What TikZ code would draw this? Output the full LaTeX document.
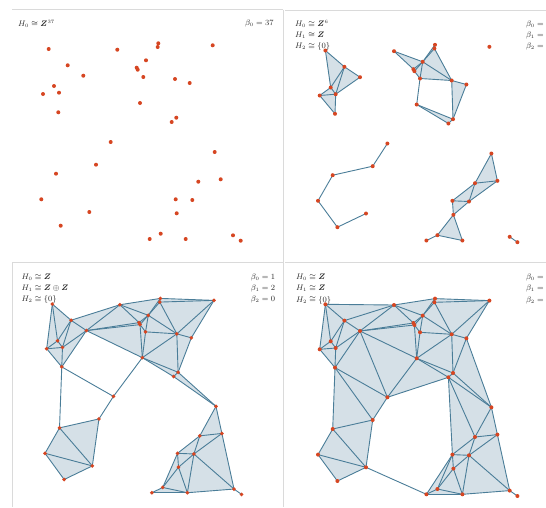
\documentclass[tikz,border=0pt]{standalone}
\usepackage{bm}
\definecolor{dotc}{RGB}{214,70,34}
\definecolor{edgec}{RGB}{74,125,152}
\definecolor{trifc}{RGB}{213,224,231}
\definecolor{framec}{RGB}{218,218,218}
\definecolor{txtc}{RGB}{40,40,40}

\newcount\akI \newcount\akJ \newcount\akK \newcount\akM
\newcount\akbx \newcount\akby \newcount\akcx \newcount\akcy
\newcount\akD \newcount\akAD \newcount\akSB \newcount\akSC
\newcount\akux \newcount\akuy \newcount\akR \newcount\akccx \newcount\akccy
\newif\ifakempty
\def\akN{37}
\def\akX#1{\csname akx#1\endcsname}
\def\akY#1{\csname aky#1\endcsname}
\def\akset#1#2#3{\expandafter\def\csname akx#1\endcsname{#2}\expandafter\def\csname aky#1\endcsname{#3}}
% point coordinates, 0.1 px units, panel-1 frame
\akset{1}{487}{490}
\akset{2}{1173}{497}
\akset{3}{1583}{433}
\akset{4}{1577}{470}
\akset{5}{2127}{453}
\akset{6}{677}{653}
\akset{7}{1460}{603}
\akset{8}{1367}{677}
\akset{9}{1377}{697}
\akset{10}{833}{757}
\akset{11}{1433}{770}
\akset{12}{1750}{790}
\akset{13}{1897}{830}
\akset{14}{540}{860}
\akset{15}{590}{927}
\akset{16}{430}{940}
\akset{17}{1400}{1030}
\akset{18}{583}{1123}
\akset{19}{1763}{1177}
\akset{20}{1717}{1220}
\akset{21}{1107}{1420}
\akset{22}{2147}{1520}
\akset{23}{960}{1647}
\akset{24}{560}{1737}
\akset{25}{2207}{1793}
\akset{26}{1983}{1817}
\akset{27}{413}{1993}
\akset{28}{1757}{1993}
\akset{29}{1923}{2000}
\akset{30}{893}{2120}
\akset{31}{1767}{2133}
\akset{32}{607}{2257}
\akset{33}{1607}{2337}
\akset{34}{1497}{2390}
\akset{35}{1857}{2390}
\akset{36}{2330}{2353}
\akset{37}{2407}{2407}

\def\akdtwo#1#2{\numexpr(\akX{#1}-\akX{#2})*(\akX{#1}-\akX{#2})+(\akY{#1}-\akY{#2})*(\akY{#1}-\akY{#2})\relax}
\def\akupd#1#2#3{%
  \ifcsname akE-#1-#2\endcsname
    \ifnum#3<\csname akE-#1-#2\endcsname\relax
      \expandafter\xdef\csname akE-#1-#2\endcsname{#3}%
    \fi
  \else
    \expandafter\xdef\csname akE-#1-#2\endcsname{#3}%
  \fi}
\let\akT\relax \let\akE\relax
\def\akTlist{}\def\akElist{}

\def\akLoopI{%
  \ifnum\akI>\akN\relax\else
    \akJ=\numexpr\akI+1\relax
    \akLoopJ
    \advance\akI by 1
    \expandafter\akLoopI
  \fi}
\def\akLoopJ{%
  \ifnum\akJ>\akN\relax\else
    \ifnum\akdtwo{\the\akI}{\the\akJ}>810000 \else
      \akK=\numexpr\akJ+1\relax
      \akLoopK
    \fi
    \advance\akJ by 1
    \expandafter\akLoopJ
  \fi}
\def\akLoopK{%
  \ifnum\akK>\akN\relax\else
    \akTriple
    \advance\akK by 1
    \expandafter\akLoopK
  \fi}
\def\akLoopM{%
  \ifnum\akM>\akN\relax\else
    \ifnum\akM=\akI\else\ifnum\akM=\akJ\else\ifnum\akM=\akK\else
      \ifnum\numexpr(\akX{\the\akM}-\akccx)*(\akX{\the\akM}-\akccx)+(\akY{\the\akM}-\akccy)*(\akY{\the\akM}-\akccy)\relax<\akR
        \akemptyfalse
      \fi
    \fi\fi\fi
    \advance\akM by 1
    \expandafter\akLoopM
  \fi}
\def\akTriple{%
  \ifnum\akdtwo{\the\akI}{\the\akK}>810000 \else
  \ifnum\akdtwo{\the\akJ}{\the\akK}>810000 \else
    \akbx=\numexpr\akX{\the\akJ}-\akX{\the\akI}\relax
    \akby=\numexpr\akY{\the\akJ}-\akY{\the\akI}\relax
    \akcx=\numexpr\akX{\the\akK}-\akX{\the\akI}\relax
    \akcy=\numexpr\akY{\the\akK}-\akY{\the\akI}\relax
    \akD=\numexpr2*(\akbx*\akcy-\akby*\akcx)\relax
    \akAD=\ifnum\akD<0 -\fi\akD
    \ifnum\akAD<100 \else
      \akSB=\numexpr\akbx*\akbx+\akby*\akby\relax
      \akSC=\numexpr\akcx*\akcx+\akcy*\akcy\relax
      \akux=\numexpr\akcy*\akSB/\akD-\akby*\akSC/\akD\relax
      \akuy=\numexpr\akbx*\akSC/\akD-\akcx*\akSB/\akD\relax
      \ifnum\akux>3000 \akux=3000 \fi
      \ifnum\akux<-3000 \akux=-3000 \fi
      \ifnum\akuy>3000 \akuy=3000 \fi
      \ifnum\akuy<-3000 \akuy=-3000 \fi
      \akR=\numexpr\akux*\akux+\akuy*\akuy\relax
      \ifnum\akR>202500 \else
        \akccx=\numexpr\akX{\the\akI}+\akux\relax
        \akccy=\numexpr\akY{\the\akI}+\akuy\relax
        \akemptytrue
        \akM=1
        \akLoopM
        \ifakempty
          \xdef\akTlist{\akTlist\noexpand\akT{\the\akI}{\the\akJ}{\the\akK}{\the\akR}}%
          \edef\akTmp{\noexpand\akupd{\the\akI}{\the\akJ}{\the\akR}\noexpand\akupd{\the\akI}{\the\akK}{\the\akR}\noexpand\akupd{\the\akJ}{\the\akK}{\the\akR}}%
          \akTmp
        \fi
      \fi
    \fi
  \fi\fi}

\def\akLoopG{%
  \ifnum\akM>\akN\relax\else
    \ifnum\akM=\akI\else\ifnum\akM=\akJ\else
      \ifnum\numexpr(2*\akX{\the\akM}-\akX{\the\akI}-\akX{\the\akJ})*(2*\akX{\the\akM}-\akX{\the\akI}-\akX{\the\akJ})+(2*\akY{\the\akM}-\akY{\the\akI}-\akY{\the\akJ})*(2*\akY{\the\akM}-\akY{\the\akI}-\akY{\the\akJ})\relax<\akR
        \akemptyfalse
      \fi
    \fi\fi
    \advance\akM by 1
    \expandafter\akLoopG
  \fi}
\def\akPI{\ifnum\akI>\akN\relax\else \akJ=\numexpr\akI+1\relax \akPJ \advance\akI by 1 \expandafter\akPI\fi}
\def\akPJ{\ifnum\akJ>\akN\relax\else \akPair \advance\akJ by 1 \expandafter\akPJ\fi}
\def\akPair{%
  \akR=\akdtwo{\the\akI}{\the\akJ}%
  \ifnum\akR>810000 \else
    \akemptytrue
    \akM=1 \akLoopG
    \ifakempty
      \expandafter\xdef\csname akE-\the\akI-\the\akJ\endcsname{\the\numexpr\akR/4\relax}%
    \fi
    \ifcsname akE-\the\akI-\the\akJ\endcsname
      \xdef\akElist{\akElist\noexpand\akE{\the\akI}{\the\akJ}{\csname akE-\the\akI-\the\akJ\endcsname}}%
    \fi
  \fi}

\akI=1 \akLoopI
\akI=1 \akPI

\def\akrr{0}
\def\akp{a}
\def\akTdraw#1#2#3#4{\ifnum#4>\akrr\relax\else\fill[trif] (\akp#1)--(\akp#2)--(\akp#3)--cycle;\fi}
\def\akEdraw#1#2#3{\ifnum#3>\akrr\relax\else\draw[edg] (\akp#1)--(\akp#2);\fi}
\newcommand\akPanel[2]{%
  \def\akp{#1}\def\akrr{#2}%
  \foreach \i in {1,...,37}{\coordinate (#1\i) at (\akX{\i},\akY{\i});}%
  \let\akT\akTdraw \akTlist
  \let\akE\akEdraw \akElist
  \foreach \i in {1,...,37}{\fill[dotc] (#1\i) circle[radius=2pt];}%
}

\begin{document}
\begin{tikzpicture}[x=0.1pt,y=-0.1pt,
  trif/.style={fill=trifc},
  edg/.style={draw=edgec,line width=0.9pt,line cap=round},
  framel/.style={draw=framec,line width=1pt},
  lab/.style={anchor=west,inner sep=0pt,text=txtc,font=\fontsize{7.6}{9}\selectfont}]
\path[use as bounding box] (0,0) rectangle (5460,5070);
\clip (0,0) rectangle (5460,5070);
% frames
\draw[framel] (120,95) -- (2830,95);
\draw[framel] (2850,100) -- (5460,100);
\draw[framel] (2838,95) -- (2838,5070);
\draw[framel] (120,2622) -- (2830,2622);
\draw[framel] (2850,2622) -- (5460,2622);
\draw[framel] (120,2622) -- (120,5070);
% panels
\begin{scope}
  \akPanel{a}{-1}
\end{scope}
\begin{scope}[shift={(2767,15)}]
  \akPanel{b}{44100}
\end{scope}
\begin{scope}[shift={(43,2554)},xscale=0.986,yscale=0.993]
  \akPanel{c}{101124}
\end{scope}
\begin{scope}[shift={(2767,2553)}]
  \akPanel{d}{176400}
\end{scope}
% labels
\node[lab] (la1) at (180,235) {$H_0\cong\bm{Z}^{37}$};
\node[lab] (lb1) at (2450,230) {$\beta_0=37$};
\node[lab] (la2) at (2950,240) {$H_0\cong\bm{Z}^{6}$};
\node[lab] (la3) at (2950,352) {$H_1\cong\bm{Z}$};
\node[lab] (la4) at (2950,465) {$H_2\cong\{0\}$};
\node[lab] (lb2) at (5260,240) {$\beta_0=6$};
\node[lab] (lb3) at (5260,352) {$\beta_1=1$};
\node[lab] (lb4) at (5260,465) {$\beta_2=0$};
\node[lab] (la5) at (215,2775) {$H_0\cong\bm{Z}$};
\node[lab] (la6) at (215,2887) {$H_1\cong\bm{Z}\oplus\bm{Z}$};
\node[lab] (la7) at (215,2997) {$H_2\cong\{0\}$};
\node[lab] (lb5) at (2507,2775) {$\beta_0=1$};
\node[lab] (lb6) at (2507,2887) {$\beta_1=2$};
\node[lab] (lb7) at (2507,2997) {$\beta_2=0$};
\node[lab] (la8) at (2960,2777) {$H_0\cong\bm{Z}$};
\node[lab] (la9) at (2960,2887) {$H_1\cong\bm{Z}$};
\node[lab] (la10) at (2960,3000) {$H_2\cong\{0\}$};
\node[lab] (lb8) at (5260,2777) {$\beta_0=1$};
\node[lab] (lb9) at (5260,2887) {$\beta_1=1$};
\node[lab] (lb10) at (5260,3000) {$\beta_2=0$};
\end{tikzpicture}
\end{document}
